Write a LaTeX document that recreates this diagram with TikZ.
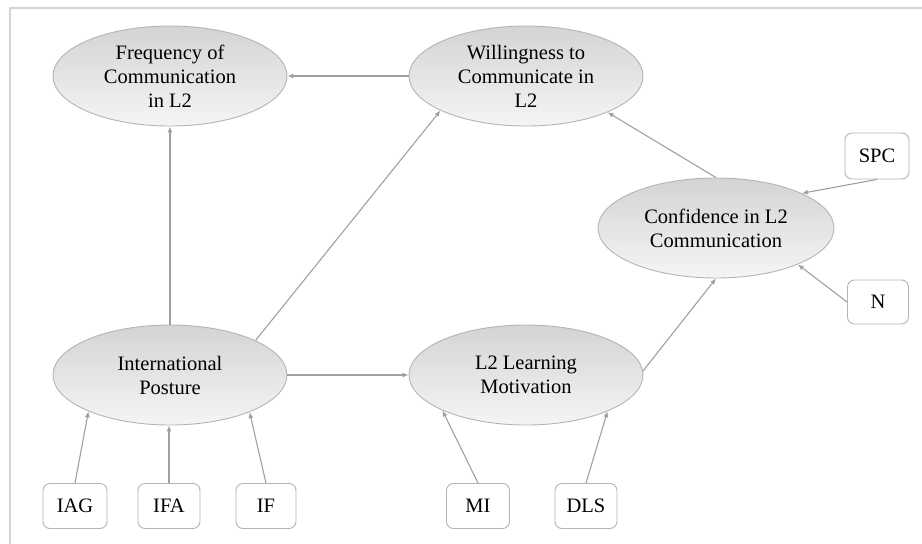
\documentclass[tikz,border=0pt]{standalone}
\usepackage{fontspec}
\setmainfont{Liberation Serif}
\usetikzlibrary{shapes.geometric,arrows.meta}
\definecolor{linegray}{HTML}{A0A0A0}
\definecolor{bordergray}{HTML}{B4B4B4}
\definecolor{framegray}{HTML}{D4D4D4}
\begin{document}
\begin{tikzpicture}[x=1pt,y=-1pt,
  latent/.style={ellipse, draw=bordergray, line width=0.9pt, top color=black!17, bottom color=black!4,
    minimum width=234pt, minimum height=100pt, inner sep=0pt, align=center,
    font=\fontsize{20.5}{24}\selectfont},
  obsbox/.style={rectangle, rounded corners=7pt, draw=bordergray, line width=0.9pt, fill=white,
    minimum height=45pt, inner sep=0pt, font=\fontsize{20.5}{24}\selectfont},
  conn/.style={draw=linegray, line width=1.1pt, -{Latex[length=6pt,width=5pt]}}]
\useasboundingbox (0,0) rectangle (922,544);
\draw[framegray, line width=1.5pt] (10,544) -- (10,8) -- (922,8);

\node[latent] (freq) at (170,76) {Frequency of\\Communication\\in L2};
\node[latent] (wtc) at (526,76) {Willingness to\\Communicate in\\L2};
\node[latent, minimum width=236pt] (conf) at (716,228) {Confidence in L2\\Communication};
\node[latent] (ip) at (170,375) {International\\Posture};
\node[latent] (lm) at (526,375) {L2 Learning\\Motivation};

\node[obsbox, minimum width=64pt] (iag) at (75,506) {IAG};
\node[obsbox, minimum width=62pt] (ifa) at (169,506) {IFA};
\node[obsbox, minimum width=60pt] (if) at (266,506) {IF};
\node[obsbox, minimum width=63pt] (mi) at (478,506) {MI};
\node[obsbox, minimum width=62pt] (dls) at (586,506) {DLS};
\node[obsbox, minimum width=64pt, minimum height=46pt] (spc) at (877,156) {SPC};
\node[obsbox, minimum width=61pt, minimum height=44pt] (n) at (878,302) {N};

\draw[conn] (wtc.west) -- (freq.east);
\draw[conn] (ip.north) -- (freq.south);
\draw[conn] (ip.22.9) -- (wtc.202.6);
\draw[conn] (ip.east) -- (lm.west);
\draw[conn] (lm.2) -- (conf.south);
\draw[conn] (conf.north) -- (wtc.336.6);
\draw[conn] (spc.south) -- (conf.22.6);
\draw[conn] (n.west) -- (conf.336);
\draw[conn] (iag.north) -- (ip.204.3);
\draw[conn] (ifa.north) -- (ifa.north |- ip.south);
\draw[conn] (if.north) -- (ip.335.7);
\draw[conn] (mi.north) -- (lm.203.4);
\draw[conn] (dls.north) -- (lm.336.6);
\end{tikzpicture}
\end{document}
